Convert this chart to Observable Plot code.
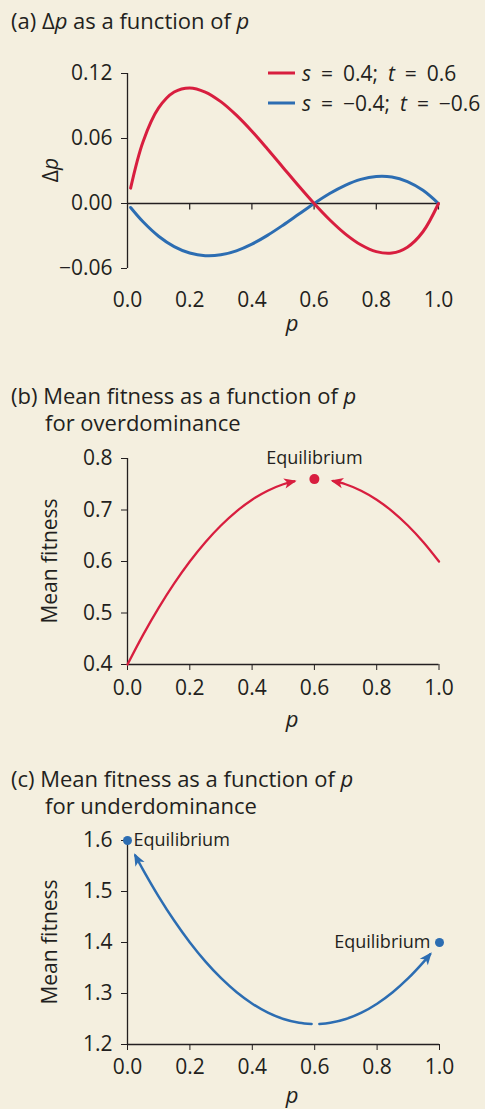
<!DOCTYPE html>
<html>
<head>
<meta charset="utf-8">
<script src="https://cdn.jsdelivr.net/npm/d3@7"></script>
<script src="https://cdn.jsdelivr.net/npm/@observablehq/plot@0.6"></script>
<style>
  html, body { margin: 0; padding: 0; background: #f4efdf; }
  #page { position: relative; width: 485px; height: 1109px; overflow: hidden;
          font-family: "Open Sans", sans-serif; color: #231f20; }
  .title { position: absolute; left: 11px; font-size: 22px; line-height: 27px; white-space: nowrap; }
  .title .indent { padding-left: 34px; }
  .chart { position: absolute; left: 0; }
  .ylab { position: absolute; font-size: 21px; line-height: 1; white-space: nowrap;
          transform: translate(-50%, -50%) rotate(-90deg); }
  .xlab { position: absolute; font-size: 22px; line-height: 1; font-style: italic;
          transform: translateX(-50%); }
  .leg { position: absolute; left: 268px; display: flex; align-items: center;
         font-size: 21px; line-height: 1; white-space: nowrap; word-spacing: 4.5px;
         transform: translateY(-50%); }
  .leg .sw { display: inline-block; width: 27px; height: 2.6px; margin-right: 7px; }
</style>
</head>
<body>
<div id="page">
  <div class="title" style="top:7px">(a) Δ<i>p</i> as a function of <i>p</i></div>
  <div class="title" style="top:382px">(b) Mean fitness as a function of <i>p</i><br><span class="indent">for overdominance</span></div>
  <div class="title" style="top:765px">(c) Mean fitness as a function of <i>p</i><br><span class="indent">for underdominance</span></div>

  <div id="chartA" class="chart" style="top:40px"></div>
  <div id="chartB" class="chart" style="top:440px"></div>
  <div id="chartC" class="chart" style="top:820px"></div>

  <div class="leg" style="top:73px"><span class="sw" style="background:#d81e3f"></span><span><i>s</i> = 0.4; <i>t</i> = 0.6</span></div>
  <div class="leg" style="top:103px"><span class="sw" style="background:#2c6db2"></span><span><i>s</i> = −0.4; <i>t</i> = −0.6</span></div>

  <div class="ylab" style="left:50px;top:170px">Δ<i>p</i></div>
  <div class="ylab" style="left:49px;top:561px">Mean fitness</div>
  <div class="ylab" style="left:49px;top:942px">Mean fitness</div>

  <div class="xlab" style="left:292px;top:311px">p</div>
  <div class="xlab" style="left:292px;top:707px">p</div>
  <div class="xlab" style="left:292px;top:1083px">p</div>
</div>

<script>
// Shared axis ticks
const xTicks = [0, 0.2, 0.4, 0.6, 0.8, 1.0];
const yTicksDelta = [-0.06, 0, 0.06, 0.12];
const yTicksOver = [0.4, 0.5, 0.6, 0.7, 0.8];
const yTicksUnder = [1.2, 1.3, 1.4, 1.5, 1.6];

// (a) change in allele frequency per generation
const pDelta = [0.01, 0.05, 0.1, 0.15, 0.2, 0.25, 0.3, 0.35, 0.4, 0.45, 0.5,
                0.55, 0.6, 0.65, 0.7, 0.75, 0.8, 0.85, 0.9, 0.95, 1.0];
const deltaOver = [0.0142, 0.0571, 0.0882, 0.1029, 0.1067, 0.1029, 0.0940, 0.0815, 0.0667, 0.0503, 0.0333,
                   0.0163, 0, -0.0150, -0.0280, -0.0381, -0.0444, -0.0457, -0.0403, -0.0261, 0];
const deltaUnder = [-0.0037, -0.0169, -0.0302, -0.0398, -0.0457, -0.0482, -0.0474, -0.0437, -0.0375, -0.0294, -0.0200,
                    -0.0100, 0, 0.0092, 0.0168, 0.0223, 0.0250, 0.0245, 0.0203, 0.0122, 0];

// (b) mean fitness, overdominance (two branches heading to the equilibrium)
const pOverLeft = [0, 0.05, 0.1, 0.15, 0.2, 0.25, 0.3, 0.35, 0.4, 0.45, 0.5, 0.535];
const fitOverLeft = [0.4, 0.4575, 0.51, 0.5575, 0.6, 0.6375, 0.67, 0.6975, 0.72, 0.7375, 0.75, 0.7558];
const pOverRight = [1.0, 0.95, 0.9, 0.85, 0.8, 0.75, 0.7, 0.66];
const fitOverRight = [0.6, 0.6375, 0.67, 0.6975, 0.72, 0.7375, 0.75, 0.7564];
const eqOverP = [0.6];
const eqOverFit = [0.76];

// (c) mean fitness, underdominance (two branches heading away from the unstable point)
const pUnderLeft = [0.59, 0.55, 0.5, 0.45, 0.4, 0.35, 0.3, 0.25, 0.2, 0.15, 0.1, 0.05, 0.025];
const fitUnderLeft = [1.2401, 1.2425, 1.25, 1.2625, 1.28, 1.3025, 1.33, 1.3625, 1.4, 1.4425, 1.49, 1.5425, 1.5706];
const pUnderRight = [0.615, 0.65, 0.7, 0.75, 0.8, 0.85, 0.9, 0.95, 0.97];
const fitUnderRight = [1.2402, 1.2425, 1.25, 1.2625, 1.28, 1.3025, 1.33, 1.3625, 1.3769];
const eqUnderP = [0, 1];
const eqUnderFit = [1.6, 1.4];

const ink = "#231f20";
const red = "#d81e3f";
const blue = "#2c6db2";
const font = '"Open Sans", sans-serif';

const rows = (xs, ys) => xs.map((p, i) => ({p, v: ys[i]}));

// small downward tick used on the zero line of panel (a)
const downTick = {draw(ctx) { ctx.moveTo(0, 0); ctx.lineTo(0, 6); }};

const baseStyle = {background: "transparent", fontFamily: font, fontSize: "21px", color: ink, overflow: "visible"};

// Replace Plot's open chevron markers with filled barbed arrowheads
function barbArrows(svg) {
  svg.querySelectorAll("marker").forEach(m => {
    const c = m.getAttribute("stroke") || ink;
    m.setAttribute("viewBox", "-14 -7 17 14");
    m.setAttribute("markerUnits", "userSpaceOnUse");
    m.setAttribute("markerWidth", 17);
    m.setAttribute("markerHeight", 14);
    m.setAttribute("fill", c);
    m.setAttribute("stroke", "none");
    const path = m.querySelector("path");
    if (path) path.setAttribute("d", "M2.5,0L-10,-5.2L-6.8,0L-10,5.2Z");
  });
  return svg;
}

// (a)
const chartA = Plot.plot({
  width: 485, height: 300,
  marginTop: 33, marginBottom: 72, marginLeft: 127, marginRight: 47,
  style: baseStyle,
  x: {domain: [0, 1], ticks: xTicks, tickFormat: ".1f", tickSize: 0, tickPadding: 23.5, label: null},
  y: {domain: [-0.06, 0.12], ticks: yTicksDelta, tickFormat: ".2f", tickSize: 6, tickPadding: 9, label: null},
  marks: [
    Plot.ruleX([0], {stroke: ink, strokeWidth: 1.3}),
    Plot.ruleY([0], {stroke: ink, strokeWidth: 1.3}),
    Plot.dot(xTicks.slice(1), {x: d => d, y: 0, symbol: downTick, stroke: ink, fill: "none", strokeWidth: 1.2}),
    Plot.line(rows(pDelta, deltaUnder), {x: "p", y: "v", stroke: blue, strokeWidth: 3, curve: "catmull-rom"}),
    Plot.line(rows(pDelta, deltaOver), {x: "p", y: "v", stroke: red, strokeWidth: 3, curve: "catmull-rom"})
  ]
});
document.getElementById("chartA").append(chartA);

// (b)
const chartB = Plot.plot({
  width: 485, height: 300,
  marginTop: 18, marginBottom: 76, marginLeft: 127, marginRight: 46.5,
  style: baseStyle,
  x: {domain: [0, 1], ticks: xTicks, tickFormat: ".1f", tickSize: 6, tickPadding: 10, label: null},
  y: {domain: [0.4, 0.8], ticks: yTicksOver, tickFormat: ".1f", tickSize: 6, tickPadding: 9, label: null},
  marks: [
    Plot.ruleX([0], {stroke: ink, strokeWidth: 1.3}),
    Plot.ruleY([0.4], {stroke: ink, strokeWidth: 1.3}),
    Plot.line(rows(pOverLeft, fitOverLeft), {x: "p", y: "v", stroke: red, strokeWidth: 2.3, curve: "catmull-rom", markerEnd: "arrow"}),
    Plot.line(rows(pOverRight, fitOverRight), {x: "p", y: "v", stroke: red, strokeWidth: 2.3, curve: "catmull-rom", markerEnd: "arrow"}),
    Plot.dot(rows(eqOverP, eqOverFit), {x: "p", y: "v", r: 5, fill: red}),
    Plot.text(rows(eqOverP, eqOverFit), {x: "p", y: "v", text: () => "Equilibrium", dy: -21, fontSize: 18, fill: ink})
  ]
});
document.getElementById("chartB").append(barbArrows(chartB));

// (c)
const eqUnder = rows(eqUnderP, eqUnderFit);
const chartC = Plot.plot({
  width: 485, height: 289,
  marginTop: 20, marginBottom: 65, marginLeft: 127, marginRight: 46,
  style: baseStyle,
  x: {domain: [0, 1], ticks: xTicks, tickFormat: ".1f", tickSize: 6, tickPadding: 9, label: null},
  y: {domain: [1.2, 1.6], ticks: yTicksUnder, tickFormat: ".1f", tickSize: 6, tickPadding: 9, label: null},
  marks: [
    Plot.ruleX([0], {stroke: ink, strokeWidth: 1.3}),
    Plot.ruleY([1.2], {stroke: ink, strokeWidth: 1.3}),
    Plot.line(rows(pUnderLeft, fitUnderLeft), {x: "p", y: "v", stroke: blue, strokeWidth: 2.5, curve: "catmull-rom", markerEnd: "arrow"}),
    Plot.line(rows(pUnderRight, fitUnderRight), {x: "p", y: "v", stroke: blue, strokeWidth: 2.5, curve: "catmull-rom", markerEnd: "arrow"}),
    Plot.dot(eqUnder, {x: "p", y: "v", r: 4.5, fill: blue}),
    Plot.text(eqUnder, {filter: d => d.p === 0, x: "p", y: "v", text: () => "Equilibrium",
                        textAnchor: "start", dx: 6, fontSize: 18, fill: ink}),
    Plot.text(eqUnder, {filter: d => d.p === 1, x: "p", y: "v", text: () => "Equilibrium",
                        textAnchor: "end", dx: -9, fontSize: 18, fill: ink})
  ]
});
document.getElementById("chartC").append(barbArrows(chartC));
</script>
</body>
</html>
